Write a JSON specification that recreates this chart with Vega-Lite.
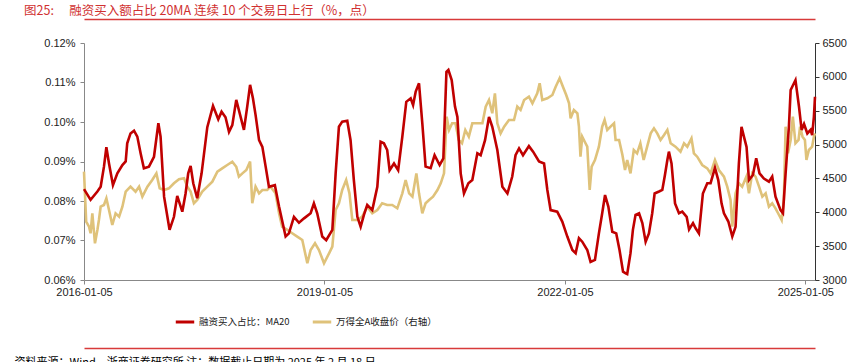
{
"$schema":"https://vega.github.io/schema/vega-lite/v6.json",
"width":731,"height":237,
"autosize":"none",
"padding":{"left":84,"top":43,"right":47,"bottom":82},
"background":"white",
"title":{"text":"图25:　 融资买入额占比 20MA 连续 10 个交易日上行（%，点）","anchor":"start","frame":"group","dx":-60,"offset":2,"fontSize":12.5,"font":"Noto Sans CJK SC","fontWeight":"normal","color":"#d03030"},
"datasets":{
"ratio":[
{"date":"2016-01-05","value":0.0830},{"date":"2016-02-04","value":0.0803},{"date":"2016-03-06","value":0.0824},{"date":"2016-03-21","value":0.0836},{"date":"2016-04-05","value":0.0887},{"date":"2016-04-16","value":0.0936},{"date":"2016-04-28","value":0.0895},{"date":"2016-05-16","value":0.0840},{"date":"2016-06-05","value":0.0870},{"date":"2016-06-28","value":0.0891},{"date":"2016-07-13","value":0.0900},{"date":"2016-07-20","value":0.0946},{"date":"2016-08-04","value":0.0971},{"date":"2016-08-20","value":0.0978},{"date":"2016-09-04","value":0.0963},{"date":"2016-09-19","value":0.0921},{"date":"2016-10-04","value":0.0883},{"date":"2016-10-27","value":0.0887},{"date":"2016-11-19","value":0.0912},{"date":"2016-12-09","value":0.0997},{"date":"2016-12-19","value":0.0963},
{"date":"2017-01-04","value":0.0811},{"date":"2017-01-29","value":0.0727},{"date":"2017-02-18","value":0.0760},{"date":"2017-03-05","value":0.0813},{"date":"2017-03-28","value":0.0773},{"date":"2017-04-12","value":0.0819},{"date":"2017-04-24","value":0.0870},{"date":"2017-05-05","value":0.0889},{"date":"2017-05-17","value":0.0845},{"date":"2017-06-04","value":0.0807},{"date":"2017-06-24","value":0.0870},{"date":"2017-07-20","value":0.0987},{"date":"2017-08-15","value":0.1041},{"date":"2017-09-08","value":0.1007},{"date":"2017-09-23","value":0.1026},{"date":"2017-10-11","value":0.1012},{"date":"2017-10-27","value":0.0975},{"date":"2017-11-11","value":0.0992},{"date":"2017-11-29","value":0.1056},{"date":"2017-12-11","value":0.1030},
{"date":"2018-01-03","value":0.0980},{"date":"2018-01-18","value":0.1039},{"date":"2018-01-31","value":0.1094},{"date":"2018-02-13","value":0.1060},{"date":"2018-02-25","value":0.1018},{"date":"2018-03-13","value":0.0954},{"date":"2018-03-28","value":0.0937},{"date":"2018-04-12","value":0.0887},{"date":"2018-04-27","value":0.0836},{"date":"2018-05-24","value":0.0840},{"date":"2018-06-12","value":0.0786},{"date":"2018-07-12","value":0.0710},{"date":"2018-07-27","value":0.0718},{"date":"2018-08-19","value":0.0760},{"date":"2018-09-11","value":0.0745},{"date":"2018-10-04","value":0.0756},{"date":"2018-11-03","value":0.0769},{"date":"2018-11-18","value":0.0794},{"date":"2018-12-03","value":0.0769},{"date":"2018-12-26","value":0.0710},
{"date":"2019-01-13","value":0.0701},{"date":"2019-02-10","value":0.0727},{"date":"2019-02-25","value":0.0870},{"date":"2019-03-12","value":0.0988},{"date":"2019-03-27","value":0.1001},{"date":"2019-04-19","value":0.1003},{"date":"2019-05-04","value":0.0954},{"date":"2019-05-19","value":0.0853},{"date":"2019-06-04","value":0.0760},{"date":"2019-06-19","value":0.0735},{"date":"2019-07-04","value":0.0765},{"date":"2019-07-19","value":0.0790},{"date":"2019-08-11","value":0.0777},{"date":"2019-09-03","value":0.0836},{"date":"2019-09-18","value":0.0950},{"date":"2019-10-03","value":0.0946},{"date":"2019-10-18","value":0.0929},{"date":"2019-10-29","value":0.0878},{"date":"2019-11-18","value":0.0895},{"date":"2019-12-07","value":0.0878},{"date":"2019-12-26","value":0.0963},
{"date":"2020-01-13","value":0.1051},{"date":"2020-02-02","value":0.1060},{"date":"2020-02-13","value":0.1043},{"date":"2020-02-25","value":0.1077},{"date":"2020-03-11","value":0.1098},{"date":"2020-03-26","value":0.0997},{"date":"2020-04-10","value":0.0887},{"date":"2020-05-03","value":0.0883},{"date":"2020-05-21","value":0.0916},{"date":"2020-06-13","value":0.0891},{"date":"2020-06-30","value":0.0908},{"date":"2020-07-14","value":0.1127},{"date":"2020-07-23","value":0.1132},{"date":"2020-08-07","value":0.1106},{"date":"2020-08-22","value":0.1039},{"date":"2020-09-02","value":0.1013},{"date":"2020-09-17","value":0.0870},{"date":"2020-10-02","value":0.0819},{"date":"2020-10-22","value":0.0845},{"date":"2020-11-09","value":0.0853},{"date":"2020-12-02","value":0.0921},{"date":"2020-12-17","value":0.0916},
{"date":"2021-01-06","value":0.0954},{"date":"2021-01-24","value":0.1013},{"date":"2021-02-08","value":0.0988},{"date":"2021-03-03","value":0.0929},{"date":"2021-03-26","value":0.0836},{"date":"2021-04-18","value":0.0819},{"date":"2021-05-10","value":0.0862},{"date":"2021-05-25","value":0.0916},{"date":"2021-06-10","value":0.0933},{"date":"2021-06-28","value":0.0916},{"date":"2021-07-25","value":0.0939},{"date":"2021-08-13","value":0.0925},{"date":"2021-09-09","value":0.0900},{"date":"2021-10-02","value":0.0895},{"date":"2021-10-17","value":0.0828},{"date":"2021-11-01","value":0.0777},{"date":"2021-12-01","value":0.0773},{"date":"2021-12-24","value":0.0748},
{"date":"2022-01-16","value":0.0710},{"date":"2022-02-08","value":0.0676},{"date":"2022-02-23","value":0.0668},{"date":"2022-03-10","value":0.0706},{"date":"2022-03-25","value":0.0697},{"date":"2022-04-17","value":0.0676},{"date":"2022-05-02","value":0.0646},{"date":"2022-05-22","value":0.0651},{"date":"2022-06-09","value":0.0718},{"date":"2022-06-24","value":0.0769},{"date":"2022-07-07","value":0.0815},{"date":"2022-07-22","value":0.0786},{"date":"2022-08-09","value":0.0722},{"date":"2022-08-27","value":0.0718},{"date":"2022-09-11","value":0.0676},{"date":"2022-09-27","value":0.0621},{"date":"2022-10-09","value":0.0617},{"date":"2022-10-16","value":0.0615},{"date":"2022-10-31","value":0.0668},{"date":"2022-11-11","value":0.0727},{"date":"2022-11-23","value":0.0765},{"date":"2022-12-09","value":0.0769},{"date":"2022-12-24","value":0.0744},
{"date":"2023-01-08","value":0.0697},{"date":"2023-01-23","value":0.0718},{"date":"2023-02-07","value":0.0769},{"date":"2023-02-18","value":0.0819},{"date":"2023-03-10","value":0.0824},{"date":"2023-03-25","value":0.0828},{"date":"2023-04-06","value":0.0866},{"date":"2023-04-17","value":0.0904},{"date":"2023-04-24","value":0.0925},{"date":"2023-05-06","value":0.0895},{"date":"2023-05-22","value":0.0794},{"date":"2023-06-09","value":0.0769},{"date":"2023-06-24","value":0.0773},{"date":"2023-07-14","value":0.0760},{"date":"2023-07-25","value":0.0728},{"date":"2023-08-12","value":0.0744},{"date":"2023-08-24","value":0.0731},{"date":"2023-09-08","value":0.0718},{"date":"2023-09-26","value":0.0819},{"date":"2023-10-16","value":0.0845},{"date":"2023-10-31","value":0.0845},{"date":"2023-11-20","value":0.0884},{"date":"2023-12-05","value":0.0853},{"date":"2023-12-20","value":0.0794},{"date":"2023-12-31","value":0.0769},
{"date":"2024-01-20","value":0.0748},{"date":"2024-02-07","value":0.0710},{"date":"2024-02-22","value":0.0735},{"date":"2024-03-08","value":0.0895},{"date":"2024-03-20","value":0.0988},{"date":"2024-03-31","value":0.0963},{"date":"2024-04-12","value":0.0937},{"date":"2024-04-23","value":0.0853},{"date":"2024-05-11","value":0.0866},{"date":"2024-05-26","value":0.0908},{"date":"2024-06-10","value":0.0870},{"date":"2024-06-30","value":0.0857},{"date":"2024-07-23","value":0.0849},{"date":"2024-08-07","value":0.0862},{"date":"2024-08-22","value":0.0811},{"date":"2024-09-14","value":0.0777},{"date":"2024-09-25","value":0.0769},{"date":"2024-10-07","value":0.0870},{"date":"2024-10-22","value":0.0988},{"date":"2024-10-30","value":0.1081},{"date":"2024-11-14","value":0.1098},{"date":"2024-11-21","value":0.1106},{"date":"2024-12-07","value":0.1039},{"date":"2024-12-19","value":0.0980},{"date":"2024-12-30","value":0.0995},
{"date":"2025-01-14","value":0.0971},{"date":"2025-01-29","value":0.0980},{"date":"2025-02-05","value":0.0967},{"date":"2025-02-13","value":0.1013},{"date":"2025-02-18","value":0.1064}
],
"index":[
{"date":"2016-01-05","value":4600},{"date":"2016-01-15","value":3861},{"date":"2016-01-28","value":3787},{"date":"2016-02-04","value":3690},{"date":"2016-02-12","value":3985},{"date":"2016-02-24","value":3542},{"date":"2016-03-06","value":3739},{"date":"2016-03-13","value":3886},{"date":"2016-03-21","value":4083},{"date":"2016-04-05","value":4108},{"date":"2016-04-16","value":4207},{"date":"2016-04-28","value":4034},{"date":"2016-05-13","value":3812},{"date":"2016-05-28","value":3985},{"date":"2016-06-13","value":3936},{"date":"2016-06-28","value":4083},{"date":"2016-07-13","value":4305},{"date":"2016-08-04","value":4378},{"date":"2016-08-27","value":4305},{"date":"2016-09-12","value":4378},{"date":"2016-09-27","value":4231},{"date":"2016-10-20","value":4378},{"date":"2016-11-11","value":4477},{"date":"2016-11-30","value":4575},{"date":"2016-12-15","value":4354},
{"date":"2017-01-04","value":4329},{"date":"2017-01-26","value":4354},{"date":"2017-02-18","value":4428},{"date":"2017-03-13","value":4487},{"date":"2017-04-05","value":4502},{"date":"2017-04-20","value":4378},{"date":"2017-05-05","value":4305},{"date":"2017-05-20","value":4133},{"date":"2017-06-04","value":4182},{"date":"2017-06-27","value":4305},{"date":"2017-07-20","value":4378},{"date":"2017-08-12","value":4452},{"date":"2017-09-04","value":4600},{"date":"2017-09-26","value":4649},{"date":"2017-10-19","value":4698},{"date":"2017-11-11","value":4748},{"date":"2017-11-29","value":4673},{"date":"2017-12-11","value":4526},{"date":"2017-12-27","value":4575},
{"date":"2018-01-14","value":4624},{"date":"2018-01-31","value":4748},{"date":"2018-02-10","value":4133},{"date":"2018-02-25","value":4378},{"date":"2018-03-13","value":4280},{"date":"2018-03-28","value":4329},{"date":"2018-04-19","value":4329},{"date":"2018-05-04","value":4378},{"date":"2018-05-27","value":4280},{"date":"2018-06-12","value":3985},{"date":"2018-06-26","value":3787},{"date":"2018-07-20","value":3739},{"date":"2018-08-11","value":3690},{"date":"2018-09-03","value":3640},{"date":"2018-09-26","value":3591},{"date":"2018-10-19","value":3247},{"date":"2018-11-03","value":3443},{"date":"2018-11-23","value":3542},{"date":"2018-12-11","value":3443},
{"date":"2019-01-03","value":3247},{"date":"2019-01-26","value":3394},{"date":"2019-02-10","value":3492},{"date":"2019-02-25","value":4034},{"date":"2019-03-12","value":4133},{"date":"2019-03-27","value":4329},{"date":"2019-04-14","value":4477},{"date":"2019-04-29","value":4280},{"date":"2019-05-12","value":3886},{"date":"2019-06-04","value":3886},{"date":"2019-06-26","value":3936},{"date":"2019-07-19","value":4083},{"date":"2019-08-11","value":3985},{"date":"2019-09-03","value":4034},{"date":"2019-09-25","value":4133},{"date":"2019-10-18","value":4108},{"date":"2019-11-10","value":4108},{"date":"2019-12-03","value":4059},{"date":"2019-12-26","value":4280},
{"date":"2020-01-10","value":4477},{"date":"2020-01-26","value":4280},{"date":"2020-02-10","value":4231},{"date":"2020-02-28","value":4575},{"date":"2020-03-11","value":4280},{"date":"2020-03-26","value":3985},{"date":"2020-04-10","value":4133},{"date":"2020-04-26","value":4182},{"date":"2020-05-14","value":4231},{"date":"2020-06-03","value":4329},{"date":"2020-06-18","value":4428},{"date":"2020-07-03","value":4575},{"date":"2020-07-15","value":5412},{"date":"2020-07-26","value":5215},{"date":"2020-08-09","value":5314},{"date":"2020-08-24","value":5314},{"date":"2020-09-08","value":5068},{"date":"2020-09-23","value":5019},{"date":"2020-10-08","value":5215},{"date":"2020-10-24","value":5117},{"date":"2020-11-09","value":5314},{"date":"2020-12-02","value":5314},{"date":"2020-12-25","value":5314},
{"date":"2021-01-09","value":5560},{"date":"2021-01-24","value":5658},{"date":"2021-02-08","value":5462},{"date":"2021-02-20","value":5757},{"date":"2021-03-03","value":5314},{"date":"2021-03-18","value":5166},{"date":"2021-04-03","value":5264},{"date":"2021-04-25","value":5363},{"date":"2021-05-18","value":5363},{"date":"2021-06-02","value":5560},{"date":"2021-06-17","value":5511},{"date":"2021-07-03","value":5658},{"date":"2021-07-25","value":5707},{"date":"2021-08-10","value":5609},{"date":"2021-09-01","value":5757},{"date":"2021-09-12","value":5905},{"date":"2021-09-24","value":5658},{"date":"2021-10-17","value":5683},{"date":"2021-11-09","value":5732},{"date":"2021-11-24","value":5855},{"date":"2021-12-12","value":5979},{"date":"2021-12-27","value":5855},
{"date":"2022-01-11","value":5732},{"date":"2022-01-24","value":5609},{"date":"2022-01-31","value":5388},{"date":"2022-02-15","value":5511},{"date":"2022-03-03","value":5462},{"date":"2022-03-10","value":5264},{"date":"2022-03-17","value":4821},{"date":"2022-03-25","value":5117},{"date":"2022-04-09","value":5019},{"date":"2022-04-17","value":4969},{"date":"2022-04-28","value":4329},{"date":"2022-05-07","value":4673},{"date":"2022-05-22","value":4772},{"date":"2022-06-09","value":4969},{"date":"2022-06-24","value":5264},{"date":"2022-07-05","value":5363},{"date":"2022-07-17","value":5215},{"date":"2022-08-01","value":5264},{"date":"2022-08-17","value":5314},{"date":"2022-08-24","value":5068},{"date":"2022-09-09","value":5068},{"date":"2022-09-24","value":4850},{"date":"2022-10-06","value":4624},{"date":"2022-10-16","value":4772},{"date":"2022-10-31","value":4575},{"date":"2022-11-15","value":4920},{"date":"2022-11-30","value":4871},{"date":"2022-12-15","value":5019},{"date":"2022-12-30","value":4772},
{"date":"2023-01-15","value":4969},{"date":"2023-01-31","value":5166},{"date":"2023-02-15","value":5240},{"date":"2023-03-02","value":5166},{"date":"2023-03-17","value":5068},{"date":"2023-04-02","value":5141},{"date":"2023-04-17","value":5215},{"date":"2023-05-02","value":5019},{"date":"2023-05-24","value":4969},{"date":"2023-06-16","value":4895},{"date":"2023-07-02","value":5019},{"date":"2023-07-17","value":4969},{"date":"2023-08-05","value":5092},{"date":"2023-08-16","value":4871},{"date":"2023-08-31","value":4821},{"date":"2023-09-23","value":4698},{"date":"2023-10-16","value":4649},{"date":"2023-10-31","value":4575},{"date":"2023-11-20","value":4772},{"date":"2023-12-08","value":4624},{"date":"2023-12-31","value":4526},
{"date":"2024-01-15","value":4378},{"date":"2024-01-30","value":4182},{"date":"2024-02-07","value":3787},{"date":"2024-02-22","value":4280},{"date":"2024-03-08","value":4428},{"date":"2024-03-23","value":4378},{"date":"2024-04-11","value":4526},{"date":"2024-04-23","value":4280},{"date":"2024-05-08","value":4575},{"date":"2024-05-23","value":4526},{"date":"2024-06-08","value":4378},{"date":"2024-06-23","value":4231},{"date":"2024-07-08","value":4280},{"date":"2024-07-23","value":4083},{"date":"2024-08-07","value":4133},{"date":"2024-08-22","value":4059},{"date":"2024-09-07","value":3960},{"date":"2024-09-19","value":3886},{"date":"2024-09-29","value":4182},{"date":"2024-10-07","value":5264},{"date":"2024-10-18","value":4871},{"date":"2024-10-30","value":5068},{"date":"2024-11-09","value":5412},{"date":"2024-11-21","value":5019},{"date":"2024-12-05","value":5068},{"date":"2024-12-12","value":5264},{"date":"2024-12-23","value":5117},
{"date":"2025-01-03","value":5068},{"date":"2025-01-10","value":4772},{"date":"2025-01-21","value":4920},{"date":"2025-02-05","value":4969},{"date":"2025-02-13","value":5117},{"date":"2025-02-18","value":5166}
]
},
"layer":[
{
"data":{"name":"ratio"},
"mark":{"type":"line","opacity":0},
"encoding":{
"x":{"field":"date","type":"temporal",
"scale":{"type":"utc","domain":[{"year":2016,"month":1,"date":5,"utc":true},{"year":2025,"month":2,"date":18,"utc":true}]},
"axis":{"orient":"bottom","offset":68,"domainColor":"#d83a3a","domainWidth":1.3,"ticks":false,"labels":false,"grid":false,
"title":"资料来源：Wind，浙商证券研究所 注：数据截止日期为 2025 年 2 月 18 日","titleX":-70,"titleY":8,"titleAlign":"left","titleAnchor":"start","titleBaseline":"top","titleFont":"Noto Sans CJK SC","titleFontSize":11,"titleFontWeight":"normal","titleColor":"#000000"}},
"y":{"field":"value","type":"quantitative","axis":null}
}
},
{
"data":{"name":"index"},
"mark":{"type":"line","strokeWidth":2.6,"interpolate":"linear"},
"encoding":{
"x":{"field":"date","type":"temporal",
"scale":{"type":"utc","domain":[{"year":2016,"month":1,"date":5,"utc":true},{"year":2025,"month":2,"date":18,"utc":true}]},
"axis":{"orient":"top","offset":24,"domainColor":"#d83a3a","domainWidth":1.3,"ticks":false,"labels":false,"grid":false,"title":null}},
"y":{"field":"value","type":"quantitative",
"scale":{"domain":[3000,6500],"nice":false,"zero":false},
"axis":{"orient":"right","values":[3000,3500,4000,4500,5000,5500,6000,6500],"format":"d","title":null,"grid":false,
"domainColor":"#333333","tickColor":"#333333","tickSize":4,"labelPadding":3,"labelFont":"Liberation Sans","labelFontSize":11,"labelColor":"#222222"}},
"color":{"datum":"万得全A收盘价（右轴）","type":"nominal"}
}
},
{
"data":{"name":"ratio"},
"mark":{"type":"line","strokeWidth":2.6,"interpolate":"linear"},
"encoding":{
"x":{"field":"date","type":"temporal",
"scale":{"type":"utc","domain":[{"year":2016,"month":1,"date":5,"utc":true},{"year":2025,"month":2,"date":18,"utc":true}]},
"axis":{"orient":"bottom","values":[{"year":2016,"month":1,"date":5,"utc":true},{"year":2019,"month":1,"date":5,"utc":true},{"year":2022,"month":1,"date":5,"utc":true},{"year":2025,"month":1,"date":5,"utc":true}],
"format":"%Y-%m-%d","title":null,"grid":false,"labelFlush":false,"labelOverlap":false,
"domainColor":"#888888","tickColor":"#888888","tickSize":4,"labelPadding":2,"labelFont":"Liberation Sans","labelFontSize":11,"labelColor":"#222222"}},
"y":{"field":"value","type":"quantitative",
"scale":{"domain":[0.06,0.12],"nice":false,"zero":false},
"axis":{"orient":"left","values":[0.06,0.07,0.08,0.09,0.10,0.11,0.12],"labelExpr":"format(datum.value, '.2f') + '%'","title":null,"grid":false,
"domainColor":"#888888","tickColor":"#888888","tickSize":4,"labelPadding":5,"labelFont":"Liberation Sans","labelFontSize":11,"labelColor":"#222222"}},
"color":{"datum":"融资买入占比：MA20","type":"nominal",
"scale":{"domain":["融资买入占比：MA20","万得全A收盘价（右轴）"],"range":["#c00000","#dfc27a"]},
"legend":{"orient":"none","legendX":90,"legendY":268,"direction":"horizontal","gridAlign":"none","title":null,"symbolType":"stroke","symbolStrokeWidth":3,"symbolSize":340,"labelFont":"Noto Sans CJK SC","labelFontSize":9.5,"labelColor":"#222222","columnPadding":16,"labelOffset":3}}
}
}
],
"resolve":{"scale":{"y":"independent"},"axis":{"x":"independent","y":"independent"}},
"config":{"view":{"stroke":null},"axis":{"grid":false}}
}
